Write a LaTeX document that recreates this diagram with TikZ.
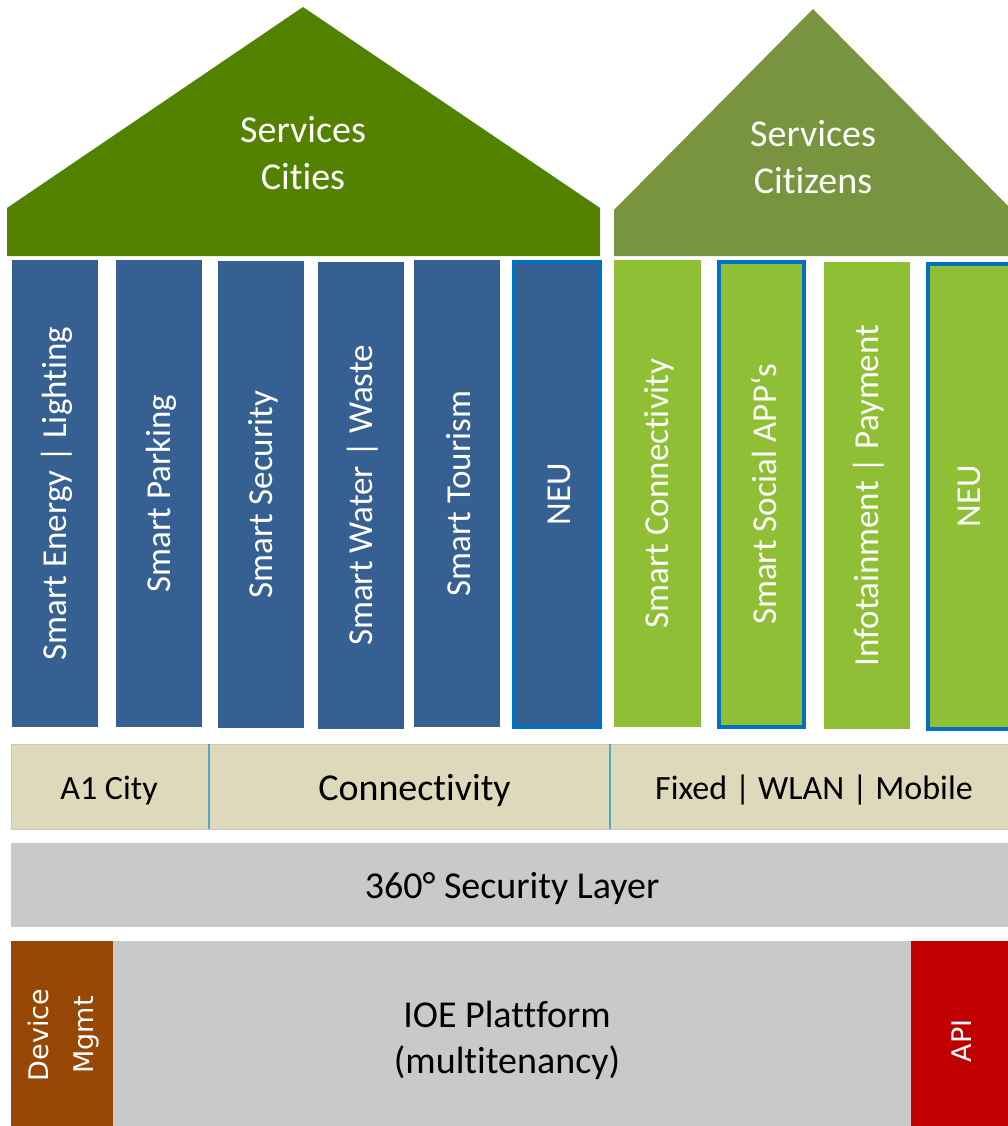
\documentclass[tikz,border=0pt]{standalone}
\usepackage{fontspec}
\setmainfont[Ligatures=NoCommon]{Carlito}
\newfontfamily\dejavu{DejaVu Sans}
\definecolor{roofA}{RGB}{82,130,0}
\definecolor{roofB}{RGB}{120,148,62}
\definecolor{colBlue}{RGB}{54,96,146}
\definecolor{colGreen}{RGB}{143,191,52}
\definecolor{neuBlue}{RGB}{0,112,192}
\definecolor{tan}{RGB}{221,217,186}
\definecolor{layerGray}{RGB}{201,201,201}
\definecolor{brownA}{RGB}{152,72,6}
\definecolor{redA}{RGB}{192,0,0}
\definecolor{divCyan}{RGB}{75,172,198}
\begin{document}
\begin{tikzpicture}[x=1pt,y=-1pt,
  blk/.style={anchor=north west, inner sep=0pt, outer sep=0pt},
  bcol/.style={blk, fill=colBlue, minimum width=86pt, minimum height=467pt},
  gcol/.style={blk, fill=colGreen, minimum width=87pt, minimum height=467pt},
  neu/.style={draw=neuBlue, line width=3.5pt},
  coltext/.style={rotate=90, text=white, font=\fontsize{35}{42}\selectfont, inner sep=0pt},
  rooftext/.style={text=white, align=center, font=\fontsize{38}{47}\selectfont, inner sep=0pt},
  bandtext/.style={text=black, align=center, inner sep=0pt},
  band/.style={blk, fill=tan, draw=black!22, line width=0.8pt, minimum height=85pt},
  vtext/.style={rotate=90, text=white, align=center, font=\dejavu\fontsize{27}{45}\selectfont, inner sep=0pt}
]
\useasboundingbox (0,0) rectangle (1008,1126);
\begin{scope}
\clip (0,0) rectangle (1008,1126);
% roofs
\fill[roofA] (7,256) -- (7,208) -- (303,7) -- (600,208) -- (600,256) -- cycle;
\fill[roofB] (614,256) -- (614,210) -- (813,9) -- (1012,210) -- (1012,256) -- cycle;
\node[rooftext] (rA) at (303,153) {Services\\Cities};
\node[rooftext] (rB) at (813,157) {Services\\Citizens};

% blue columns
\node[bcol] (c1) at (12,260) {};
\node[bcol] (c2) at (116,260) {};
\node[bcol] (c3) at (218,261) {};
\node[bcol] (c4) at (318,262) {};
\node[bcol] (c5) at (414,260) {};
\node[bcol, neu, minimum width=86pt, minimum height=465pt] (c6) at (514,262) {};
% green columns
\node[gcol] (c7) at (614,260) {};
\node[gcol, neu, minimum width=85pt, minimum height=465pt] (c8) at (719,262) {};
\node[gcol, minimum width=86pt] (c9) at (824,262) {};
\node[gcol, neu, minimum width=90pt, minimum height=465pt] (c10) at (928,264) {};

\node[coltext] (t1) at ([xshift=2pt]c1.center) {Smart Energy | Lighting};
\node[coltext] (t2) at ([xshift=2pt]c2.center) {Smart Parking};
\node[coltext] (t3) at ([xshift=2pt]c3.center) {Smart Security};
\node[coltext] (t4) at ([xshift=2pt]c4.center) {Smart Water | Waste};
\node[coltext] (t5) at ([xshift=2pt]c5.center) {Smart Tourism};
\node[coltext] (t6) at ([xshift=2pt]c6.center) {NEU};
\node[coltext] (t7) at ([xshift=2pt]c7.center) {Smart Connectivity};
\node[coltext] (t8) at ([xshift=2pt]c8.center) {Smart Social APP‘s};
\node[coltext] (t9) at ([xshift=2pt]c9.center) {Infotainment | Payment};
\node[coltext] (t10) at ([xshift=-4pt]c10.center) {NEU};

% connectivity band
\node[band, minimum width=198pt] (b1) at (11,744) {};
\node[band, minimum width=401pt] (b2) at (209,744) {};
\node[band, minimum width=400pt] (b3) at (610,744) {};
\draw[divCyan, line width=1.2pt] (b1.north east) -- (b1.south east);
\draw[divCyan, line width=1.2pt] (b2.north east) -- (b2.south east);
\node[bandtext, font=\fontsize{34}{40}\selectfont] (l1) at ([xshift=-1pt,yshift=-4pt]b1.center) {A1 City};
\node[bandtext, font=\fontsize{38}{44}\selectfont] (l2) at ([xshift=5pt,yshift=-4pt]b2.center) {Connectivity};
\node[bandtext, font=\fontsize{34}{40}\selectfont] (l3) at ([xshift=4pt,yshift=-4pt]b3.center) {Fixed | WLAN | Mobile};

% security layer
\node[blk, fill=layerGray, minimum width=1000pt, minimum height=84pt] (sec) at (11,843) {};
\node[bandtext, font=\fontsize{38}{44}\selectfont] (secT) at (512,888) {360° Security Layer};

% platform
\node[blk, fill=brownA, minimum width=102pt, minimum height=190pt] (dev) at (11,941) {};
\node[blk, fill=layerGray, minimum width=798pt, minimum height=190pt] (ioe) at (113,941) {};
\node[blk, fill=redA, minimum width=100pt, minimum height=190pt] (api) at (911,941) {};
\node[vtext] (devT) at (64,1035) {Device\\Mgmt};
\node[vtext] (apiT) at (962,1041) {API};
\node[bandtext, font=\fontsize{38}{46}\selectfont] (ioeT) at (507,1040) {IOE Plattform\\(multitenancy)};
\end{scope}
\end{tikzpicture}
\end{document}
